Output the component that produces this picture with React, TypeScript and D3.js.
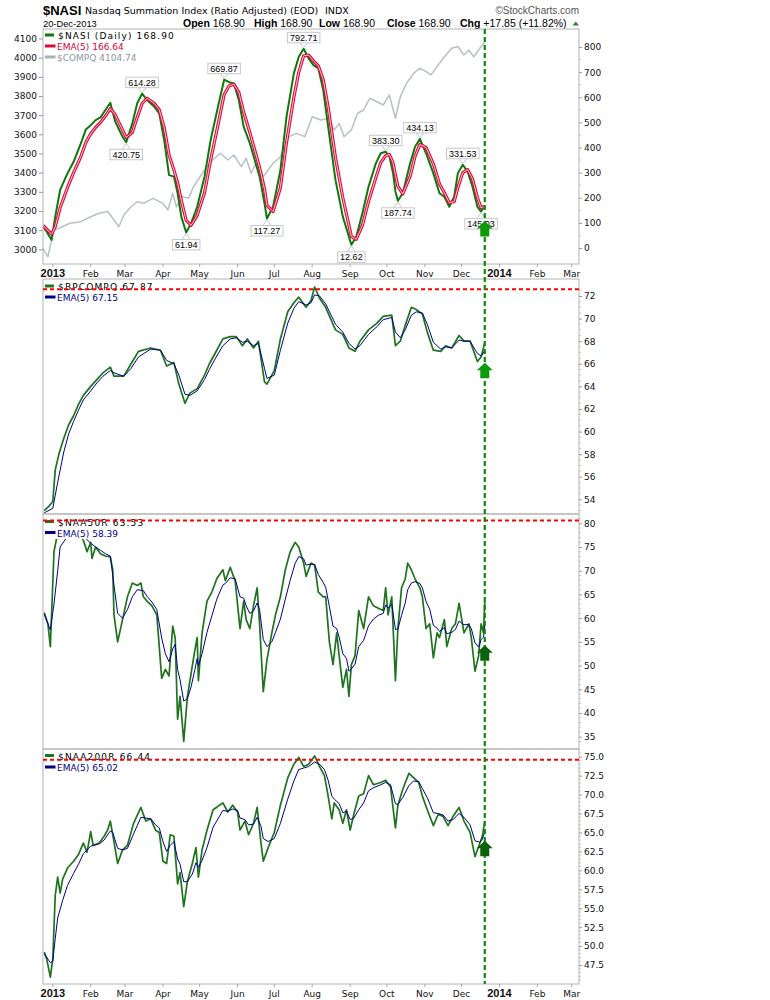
import React, { useRef, useEffect } from 'react';
import * as d3 from 'd3';

type Pt = [string, number];

const nasi: Pt[] = [
  ['2012-12-24', 85], ['2012-12-27', 65], ['2012-12-31', 32], ['2013-01-03', 125], ['2013-01-07', 231],
  ['2013-01-13', 297], ['2013-01-18', 343], ['2013-01-24', 417], ['2013-01-28', 472], ['2013-02-01', 489],
  ['2013-02-05', 509], ['2013-02-09', 520], ['2013-02-13', 549], ['2013-02-17', 578], ['2013-02-21', 503],
  ['2013-02-27', 443], ['2013-03-02', 420.75], ['2013-03-07', 496], ['2013-03-11', 576], ['2013-03-15', 614.28],
  ['2013-03-19', 589], ['2013-03-25', 562], ['2013-03-29', 536], ['2013-04-02', 430], ['2013-04-06', 290],
  ['2013-04-10', 284], ['2013-04-13', 218], ['2013-04-16', 125], ['2013-04-20', 61.94], ['2013-04-24', 98],
  ['2013-04-29', 164], ['2013-05-05', 284], ['2013-05-10', 430], ['2013-05-16', 562], ['2013-05-21', 669.87],
  ['2013-05-25', 660], ['2013-05-29', 655], ['2013-06-02', 589], ['2013-06-06', 483], ['2013-06-11', 417],
  ['2013-06-15', 350], ['2013-06-19', 284], ['2013-06-23', 178], ['2013-06-25', 117.27], ['2013-06-30', 164],
  ['2013-07-06', 310], ['2013-07-11', 523], ['2013-07-17', 695], ['2013-07-21', 761], ['2013-07-25', 792.71],
  ['2013-07-29', 755], ['2013-08-02', 728], ['2013-08-06', 715], ['2013-08-10', 629], ['2013-08-14', 483],
  ['2013-08-20', 271], ['2013-08-26', 125], ['2013-08-31', 45], ['2013-09-02', 12.62], ['2013-09-06', 45],
  ['2013-09-11', 138], ['2013-09-16', 244], ['2013-09-22', 337], ['2013-09-26', 377], ['2013-09-30', 383.3],
  ['2013-10-03', 365], ['2013-10-06', 300], ['2013-10-08', 225], ['2013-10-10', 187.74], ['2013-10-14', 218],
  ['2013-10-20', 337], ['2013-10-24', 403], ['2013-10-28', 434.13], ['2013-11-02', 377], ['2013-11-08', 297],
  ['2013-11-13', 218], ['2013-11-17', 204], ['2013-11-21', 164], ['2013-11-25', 204], ['2013-11-28', 297],
  ['2013-12-02', 331.53], ['2013-12-06', 304], ['2013-12-10', 244], ['2013-12-14', 164], ['2013-12-17', 145.03],
  ['2013-12-20', 168.9],
];

const nasiEma: Pt[] = [
  ['2012-12-24', 90], ['2012-12-27', 75], ['2012-12-31', 55], ['2013-01-03', 85], ['2013-01-07', 160],
  ['2013-01-13', 240], ['2013-01-18', 300], ['2013-01-24', 365], ['2013-01-28', 420], ['2013-02-01', 455],
  ['2013-02-05', 480], ['2013-02-09', 500], ['2013-02-13', 525], ['2013-02-17', 555], ['2013-02-21', 530],
  ['2013-02-27', 470], ['2013-03-02', 440], ['2013-03-07', 460], ['2013-03-11', 520], ['2013-03-15', 575],
  ['2013-03-19', 596], ['2013-03-25', 575], ['2013-03-29', 550], ['2013-04-02', 480], ['2013-04-06', 370],
  ['2013-04-10', 310], ['2013-04-13', 260], ['2013-04-16', 190], ['2013-04-20', 110], ['2013-04-24', 90],
  ['2013-04-29', 130], ['2013-05-05', 220], ['2013-05-10', 350], ['2013-05-16', 490], ['2013-05-21', 610],
  ['2013-05-25', 645], ['2013-05-29', 652], ['2013-06-02', 620], ['2013-06-06', 540], ['2013-06-11', 460],
  ['2013-06-15', 390], ['2013-06-19', 320], ['2013-06-23', 235], ['2013-06-25', 170], ['2013-06-30', 145],
  ['2013-07-06', 240], ['2013-07-11', 420], ['2013-07-17', 600], ['2013-07-21', 700], ['2013-07-25', 765],
  ['2013-07-29', 768], ['2013-08-02', 745], ['2013-08-06', 725], ['2013-08-10', 670], ['2013-08-14', 560],
  ['2013-08-20', 360], ['2013-08-26', 200], ['2013-08-31', 90], ['2013-09-02', 45], ['2013-09-06', 35],
  ['2013-09-11', 90], ['2013-09-16', 185], ['2013-09-22', 280], ['2013-09-26', 340], ['2013-09-30', 368],
  ['2013-10-03', 372], ['2013-10-06', 340], ['2013-10-08', 290], ['2013-10-10', 245], ['2013-10-14', 215],
  ['2013-10-20', 285], ['2013-10-24', 365], ['2013-10-28', 412], ['2013-11-02', 400], ['2013-11-08', 335],
  ['2013-11-13', 255], ['2013-11-17', 220], ['2013-11-21', 180], ['2013-11-25', 185], ['2013-11-28', 240],
  ['2013-12-02', 300], ['2013-12-06', 312], ['2013-12-10', 275], ['2013-12-14', 200], ['2013-12-17', 160],
  ['2013-12-20', 166.64],
];

const compq: Pt[] = [
  ['2012-12-24', 3005], ['2012-12-28', 2961], ['2013-01-02', 3101], ['2013-01-06', 3110], ['2013-01-15', 3136],
  ['2013-01-24', 3144], ['2013-02-01', 3170], ['2013-02-08', 3188], ['2013-02-15', 3197], ['2013-02-20', 3153],
  ['2013-02-24', 3118], ['2013-02-28', 3179], ['2013-03-06', 3222], ['2013-03-11', 3248], ['2013-03-16', 3240],
  ['2013-03-24', 3266], ['2013-04-01', 3240], ['2013-04-05', 3205], ['2013-04-09', 3292], ['2013-04-12', 3222],
  ['2013-04-17', 3275], ['2013-04-22', 3266], ['2013-04-26', 3327], ['2013-05-05', 3414], ['2013-05-10', 3457],
  ['2013-05-18', 3501], ['2013-05-24', 3466], ['2013-05-29', 3492], ['2013-06-04', 3431], ['2013-06-08', 3475],
  ['2013-06-12', 3397], ['2013-06-16', 3449], ['2013-06-22', 3379], ['2013-06-26', 3414], ['2013-06-30', 3449],
  ['2013-07-06', 3483], ['2013-07-13', 3588], ['2013-07-19', 3605], ['2013-07-26', 3588], ['2013-08-01', 3692],
  ['2013-08-08', 3675], ['2013-08-14', 3683], ['2013-08-19', 3623], ['2013-08-23', 3657], ['2013-08-27', 3588],
  ['2013-09-02', 3623], ['2013-09-07', 3710], ['2013-09-12', 3727], ['2013-09-17', 3788], ['2013-09-23', 3770],
  ['2013-09-28', 3753], ['2013-10-03', 3805], ['2013-10-08', 3684], ['2013-10-12', 3796], ['2013-10-17', 3866],
  ['2013-10-23', 3919], ['2013-10-28', 3945], ['2013-11-02', 3927], ['2013-11-06', 3910], ['2013-11-12', 3962],
  ['2013-11-17', 4005], ['2013-11-23', 4049], ['2013-11-28', 4058], ['2013-12-03', 4014], ['2013-12-07', 4040],
  ['2013-12-11', 4005], ['2013-12-16', 4049], ['2013-12-20', 4080],
];

const bpcompq: Pt[] = [
  ['2012-12-25', 53.0], ['2012-12-29', 53.4], ['2013-01-01', 53.8], ['2013-01-03', 56.6], ['2013-01-06', 58.0],
  ['2013-01-10', 59.4], ['2013-01-14', 60.6], ['2013-01-18', 61.4], ['2013-01-22', 62.4], ['2013-01-26', 63.2],
  ['2013-02-01', 64.0], ['2013-02-06', 64.6], ['2013-02-11', 65.2], ['2013-02-17', 65.7], ['2013-02-20', 64.9],
  ['2013-02-28', 64.9], ['2013-03-06', 66.0], ['2013-03-12', 67.1], ['2013-03-22', 67.4], ['2013-03-30', 67.2],
  ['2013-04-04', 65.8], ['2013-04-10', 66.1], ['2013-04-14', 64.2], ['2013-04-19', 62.5], ['2013-04-23', 63.4],
  ['2013-04-29', 63.8], ['2013-05-05', 65.0], ['2013-05-09', 66.0], ['2013-05-14', 67.0], ['2013-05-20', 68.2],
  ['2013-05-26', 68.4], ['2013-05-31', 68.4], ['2013-06-05', 67.6], ['2013-06-09', 68.2], ['2013-06-14', 67.4],
  ['2013-06-18', 68.0], ['2013-06-23', 64.4], ['2013-06-25', 64.2], ['2013-07-01', 65.4], ['2013-07-06', 68.2],
  ['2013-07-12', 70.6], ['2013-07-17', 71.4], ['2013-07-21', 71.9], ['2013-07-27', 71.0], ['2013-07-31', 71.6],
  ['2013-08-03', 72.8], ['2013-08-07', 71.8], ['2013-08-12', 71.0], ['2013-08-16', 70.0], ['2013-08-20', 69.0],
  ['2013-08-26', 68.6], ['2013-08-31', 67.4], ['2013-09-05', 67.1], ['2013-09-09', 68.0], ['2013-09-16', 69.0],
  ['2013-09-23', 69.6], ['2013-09-28', 70.2], ['2013-10-05', 70.3], ['2013-10-08', 67.6], ['2013-10-12', 68.0],
  ['2013-10-16', 69.4], ['2013-10-21', 71.0], ['2013-10-25', 70.8], ['2013-10-30', 70.4], ['2013-11-03', 68.8],
  ['2013-11-08', 67.2], ['2013-11-14', 67.1], ['2013-11-18', 67.6], ['2013-11-23', 67.4], ['2013-11-29', 68.5],
  ['2013-12-03', 68.0], ['2013-12-08', 68.0], ['2013-12-14', 66.2], ['2013-12-17', 66.6], ['2013-12-20', 67.87],
];

const bpcompqEma: Pt[] = [
  ['2012-12-25', 52.8], ['2013-01-01', 53.2], ['2013-01-05', 55.5], ['2013-01-10', 58.2], ['2013-01-14', 59.8],
  ['2013-01-18', 60.9], ['2013-01-22', 61.9], ['2013-01-26', 62.8], ['2013-02-01', 63.6], ['2013-02-06', 64.3],
  ['2013-02-11', 64.9], ['2013-02-17', 65.4], ['2013-02-20', 65.2], ['2013-02-28', 64.9], ['2013-03-06', 65.6],
  ['2013-03-12', 66.6], ['2013-03-22', 67.3], ['2013-03-30', 67.2], ['2013-04-04', 66.3], ['2013-04-10', 66.0],
  ['2013-04-14', 65.0], ['2013-04-19', 63.3], ['2013-04-23', 63.2], ['2013-04-29', 63.6], ['2013-05-05', 64.6],
  ['2013-05-09', 65.5], ['2013-05-14', 66.5], ['2013-05-20', 67.6], ['2013-05-26', 68.2], ['2013-05-31', 68.3],
  ['2013-06-05', 67.9], ['2013-06-09', 68.0], ['2013-06-14', 67.6], ['2013-06-18', 67.8], ['2013-06-23', 65.6],
  ['2013-06-25', 64.7], ['2013-07-01', 65.0], ['2013-07-06', 67.2], ['2013-07-12', 69.6], ['2013-07-17', 70.9],
  ['2013-07-21', 71.5], ['2013-07-27', 71.2], ['2013-07-31', 71.4], ['2013-08-03', 72.1], ['2013-08-07', 72.0],
  ['2013-08-12', 71.3], ['2013-08-16', 70.4], ['2013-08-20', 69.5], ['2013-08-26', 68.8], ['2013-08-31', 67.8],
  ['2013-09-05', 67.3], ['2013-09-09', 67.6], ['2013-09-16', 68.6], ['2013-09-23', 69.3], ['2013-09-28', 69.9],
  ['2013-10-05', 70.1], ['2013-10-08', 68.8], ['2013-10-12', 68.3], ['2013-10-16', 69.0], ['2013-10-21', 70.3],
  ['2013-10-25', 70.6], ['2013-10-30', 70.5], ['2013-11-03', 69.5], ['2013-11-08', 67.9], ['2013-11-14', 67.3],
  ['2013-11-18', 67.5], ['2013-11-23', 67.4], ['2013-11-29', 68.1], ['2013-12-03', 68.0], ['2013-12-08', 68.0],
  ['2013-12-14', 66.9], ['2013-12-17', 66.7], ['2013-12-20', 67.15],
];

const naa50r: Pt[] = [
  ['2012-12-25', 61.2], ['2012-12-28', 58.8], ['2012-12-30', 54.0], ['2013-01-02', 74.1], ['2013-01-05', 77.9],
  ['2013-01-07', 79.6], ['2013-01-15', 78.5], ['2013-01-20', 78.8], ['2013-01-26', 76.4], ['2013-01-29', 74.0],
  ['2013-02-01', 76.0], ['2013-02-02', 72.6], ['2013-02-05', 75.0], ['2013-02-09', 73.6], ['2013-02-13', 73.1],
  ['2013-02-17', 72.9], ['2013-02-19', 70.2], ['2013-02-20', 60.7], ['2013-02-23', 55.0], ['2013-02-27', 59.7],
  ['2013-03-03', 64.5], ['2013-03-07', 67.4], ['2013-03-11', 66.9], ['2013-03-14', 67.4], ['2013-03-16', 64.5],
  ['2013-03-19', 63.6], ['2013-03-23', 62.6], ['2013-03-27', 60.7], ['2013-03-31', 47.3], ['2013-04-03', 49.2],
  ['2013-04-06', 47.8], ['2013-04-09', 58.3], ['2013-04-11', 55.9], ['2013-04-13', 38.7], ['2013-04-15', 43.5],
  ['2013-04-18', 34.0], ['2013-04-21', 43.5], ['2013-04-24', 48.3], ['2013-04-27', 53.1], ['2013-04-29', 55.9],
  ['2013-04-30', 46.8], ['2013-05-03', 56.9], ['2013-05-07', 63.6], ['2013-05-11', 65.5], ['2013-05-15', 68.3],
  ['2013-05-20', 70.2], ['2013-05-22', 67.9], ['2013-05-26', 70.7], ['2013-05-30', 67.9], ['2013-06-03', 57.8],
  ['2013-06-06', 63.6], ['2013-06-08', 59.7], ['2013-06-11', 57.8], ['2013-06-14', 62.6], ['2013-06-17', 66.4],
  ['2013-06-19', 58.8], ['2013-06-22', 44.5], ['2013-06-25', 51.2], ['2013-06-29', 56.9], ['2013-07-02', 60.7],
  ['2013-07-06', 64.5], ['2013-07-10', 70.2], ['2013-07-14', 74.0], ['2013-07-18', 76.0], ['2013-07-21', 75.0],
  ['2013-07-25', 71.6], ['2013-07-27', 68.8], ['2013-07-31', 71.6], ['2013-08-03', 71.2], ['2013-08-06', 65.5],
  ['2013-08-10', 64.5], ['2013-08-12', 64.5], ['2013-08-15', 55.0], ['2013-08-18', 50.2], ['2013-08-21', 56.9],
  ['2013-08-23', 52.1], ['2013-08-26', 45.4], ['2013-08-29', 49.2], ['2013-08-31', 43.5], ['2013-09-02', 50.2],
  ['2013-09-05', 52.1], ['2013-09-08', 61.6], ['2013-09-12', 57.8], ['2013-09-16', 64.5], ['2013-09-20', 62.6],
  ['2013-09-24', 62.1], ['2013-09-28', 61.6], ['2013-09-30', 66.4], ['2013-10-02', 60.7], ['2013-10-05', 64.5],
  ['2013-10-08', 46.8], ['2013-10-10', 57.8], ['2013-10-13', 66.4], ['2013-10-16', 68.3], ['2013-10-18', 71.6],
  ['2013-10-21', 70.2], ['2013-10-24', 68.3], ['2013-10-28', 66.4], ['2013-10-30', 64.5], ['2013-11-02', 57.8],
  ['2013-11-05', 58.8], ['2013-11-08', 51.6], ['2013-11-11', 56.9], ['2013-11-13', 55.9], ['2013-11-17', 59.7],
  ['2013-11-19', 54.0], ['2013-11-23', 57.8], ['2013-11-26', 58.8], ['2013-11-29', 63.1], ['2013-12-03', 56.9],
  ['2013-12-07', 58.8], ['2013-12-09', 55.9], ['2013-12-12', 48.8], ['2013-12-15', 52.1], ['2013-12-17', 58.8],
  ['2013-12-19', 56.9], ['2013-12-20', 63.53],
];

const naa50rEma: Pt[] = [
  ['2012-12-25', 60.8], ['2012-12-30', 57.5], ['2013-01-02', 63.0], ['2013-01-05', 70.0], ['2013-01-07', 75.0],
  ['2013-01-15', 78.0], ['2013-01-20', 78.5], ['2013-01-26', 77.3], ['2013-02-01', 75.8], ['2013-02-05', 75.0],
  ['2013-02-09', 74.3], ['2013-02-13', 73.6], ['2013-02-17', 73.1], ['2013-02-20', 67.0], ['2013-02-23', 61.0],
  ['2013-02-27', 60.0], ['2013-03-03', 61.8], ['2013-03-07', 64.5], ['2013-03-11', 66.0], ['2013-03-16', 65.8],
  ['2013-03-19', 64.6], ['2013-03-23', 63.4], ['2013-03-27', 61.8], ['2013-03-31', 55.8], ['2013-04-03', 52.5],
  ['2013-04-06', 50.8], ['2013-04-09', 53.5], ['2013-04-11', 54.5], ['2013-04-13', 49.2], ['2013-04-15', 47.0],
  ['2013-04-18', 42.5], ['2013-04-21', 43.0], ['2013-04-24', 45.5], ['2013-04-27', 49.0], ['2013-04-29', 51.5],
  ['2013-04-30', 50.0], ['2013-05-03', 52.5], ['2013-05-07', 57.0], ['2013-05-11', 60.5], ['2013-05-15', 64.0],
  ['2013-05-20', 67.0], ['2013-05-22', 67.3], ['2013-05-26', 68.5], ['2013-05-30', 68.3], ['2013-06-03', 64.5],
  ['2013-06-06', 64.2], ['2013-06-08', 62.6], ['2013-06-11', 61.0], ['2013-06-14', 61.5], ['2013-06-17', 63.2],
  ['2013-06-19', 61.8], ['2013-06-22', 55.5], ['2013-06-25', 54.0], ['2013-06-29', 55.0], ['2013-07-02', 57.0],
  ['2013-07-06', 59.8], ['2013-07-10', 64.0], ['2013-07-14', 68.0], ['2013-07-18', 71.5], ['2013-07-21', 73.0],
  ['2013-07-25', 72.5], ['2013-07-27', 71.2], ['2013-07-31', 71.4], ['2013-08-03', 71.3], ['2013-08-06', 69.2],
  ['2013-08-10', 67.5], ['2013-08-12', 66.5], ['2013-08-15', 62.5], ['2013-08-18', 58.3], ['2013-08-21', 57.8],
  ['2013-08-23', 56.0], ['2013-08-26', 52.5], ['2013-08-29', 51.5], ['2013-08-31', 48.8], ['2013-09-02', 49.3],
  ['2013-09-05', 50.3], ['2013-09-08', 54.0], ['2013-09-12', 55.3], ['2013-09-16', 58.4], ['2013-09-20', 59.8],
  ['2013-09-24', 60.6], ['2013-09-28', 61.0], ['2013-09-30', 62.8], ['2013-10-02', 62.1], ['2013-10-05', 62.9],
  ['2013-10-08', 57.6], ['2013-10-10', 57.7], ['2013-10-13', 60.6], ['2013-10-16', 63.2], ['2013-10-18', 66.0],
  ['2013-10-21', 67.4], ['2013-10-24', 67.7], ['2013-10-28', 67.3], ['2013-10-30', 66.4], ['2013-11-02', 63.5],
  ['2013-11-05', 61.9], ['2013-11-08', 58.5], ['2013-11-11', 57.9], ['2013-11-13', 57.2], ['2013-11-17', 58.0],
  ['2013-11-19', 56.7], ['2013-11-23', 57.0], ['2013-11-26', 57.6], ['2013-11-29', 59.4], ['2013-12-03', 58.6],
  ['2013-12-07', 58.7], ['2013-12-09', 57.8], ['2013-12-12', 54.8], ['2013-12-15', 53.9], ['2013-12-17', 55.5],
  ['2013-12-19', 56.0], ['2013-12-20', 58.39],
];

const naa200r: Pt[] = [
  ['2012-12-25', 49.2], ['2012-12-27', 48.3], ['2012-12-30', 45.9], ['2013-01-01', 48.3], ['2013-01-03', 56.7],
  ['2013-01-05', 59.1], ['2013-01-07', 57.0], ['2013-01-09', 58.8], ['2013-01-13', 60.3], ['2013-01-18', 61.2],
  ['2013-01-22', 62.1], ['2013-01-26', 63.6], ['2013-01-29', 62.4], ['2013-02-01', 65.1], ['2013-02-03', 63.3],
  ['2013-02-08', 63.6], ['2013-02-12', 64.5], ['2013-02-15', 65.4], ['2013-02-17', 66.5], ['2013-02-19', 64.7],
  ['2013-02-23', 60.9], ['2013-02-27', 62.7], ['2013-03-03', 63.3], ['2013-03-08', 66.2], ['2013-03-14', 68.3],
  ['2013-03-18', 66.5], ['2013-03-22', 66.8], ['2013-03-26', 65.3], ['2013-03-29', 65.0], ['2013-04-01', 61.2],
  ['2013-04-04', 60.9], ['2013-04-07', 64.7], ['2013-04-10', 64.5], ['2013-04-13', 58.2], ['2013-04-15', 59.7],
  ['2013-04-18', 55.2], ['2013-04-21', 58.5], ['2013-04-25', 60.9], ['2013-04-28', 63.0], ['2013-04-30', 59.1],
  ['2013-05-03', 62.7], ['2013-05-07', 65.3], ['2013-05-12', 68.0], ['2013-05-20', 68.9], ['2013-05-24', 67.7],
  ['2013-05-28', 68.6], ['2013-06-01', 67.7], ['2013-06-03', 65.3], ['2013-06-07', 66.5], ['2013-06-10', 64.7],
  ['2013-06-14', 66.2], ['2013-06-17', 68.3], ['2013-06-20', 63.8], ['2013-06-22', 61.2], ['2013-06-26', 63.0],
  ['2013-07-01', 65.0], ['2013-07-06', 68.6], ['2013-07-12', 72.2], ['2013-07-17', 74.0], ['2013-07-21', 74.9],
  ['2013-07-25', 73.7], ['2013-07-29', 74.0], ['2013-08-03', 75.1], ['2013-08-07', 73.7], ['2013-08-11', 72.5],
  ['2013-08-14', 69.8], ['2013-08-17', 66.8], ['2013-08-19', 68.9], ['2013-08-23', 68.0], ['2013-08-26', 66.2],
  ['2013-08-29', 68.0], ['2013-09-01', 65.3], ['2013-09-04', 67.4], ['2013-09-08', 69.8], ['2013-09-12', 70.1],
  ['2013-09-16', 72.5], ['2013-09-20', 71.3], ['2013-09-26', 71.6], ['2013-09-30', 71.9], ['2013-10-04', 71.0],
  ['2013-10-08', 65.6], ['2013-10-10', 68.6], ['2013-10-14', 70.7], ['2013-10-19', 72.8], ['2013-10-23', 72.2],
  ['2013-10-27', 71.6], ['2013-10-30', 69.8], ['2013-11-03', 68.0], ['2013-11-08', 65.9], ['2013-11-12', 67.4],
  ['2013-11-16', 67.1], ['2013-11-20', 65.9], ['2013-11-24', 67.1], ['2013-11-29', 68.3], ['2013-12-03', 66.5],
  ['2013-12-08', 65.0], ['2013-12-12', 61.8], ['2013-12-16', 63.6], ['2013-12-18', 64.5], ['2013-12-20', 66.44],
];

const naa200rEma: Pt[] = [
  ['2012-12-25', 49.0], ['2012-12-30', 47.8], ['2013-01-01', 48.0], ['2013-01-03', 51.0], ['2013-01-05', 53.7],
  ['2013-01-09', 56.0], ['2013-01-13', 58.0], ['2013-01-18', 59.6], ['2013-01-22', 60.8], ['2013-01-26', 62.2],
  ['2013-02-01', 63.2], ['2013-02-08', 63.5], ['2013-02-12', 64.0], ['2013-02-17', 65.2], ['2013-02-19', 65.0],
  ['2013-02-23', 62.9], ['2013-02-27', 62.7], ['2013-03-03', 62.9], ['2013-03-08', 64.8], ['2013-03-14', 67.0],
  ['2013-03-18', 66.9], ['2013-03-22', 66.8], ['2013-03-26', 66.0], ['2013-03-29', 65.6], ['2013-04-01', 63.8],
  ['2013-04-04', 62.5], ['2013-04-07', 63.3], ['2013-04-10', 63.8], ['2013-04-13', 61.5], ['2013-04-15', 60.8],
  ['2013-04-18', 58.5], ['2013-04-21', 58.5], ['2013-04-25', 59.5], ['2013-04-28', 61.0], ['2013-04-30', 60.4],
  ['2013-05-03', 61.3], ['2013-05-07', 63.0], ['2013-05-12', 65.7], ['2013-05-20', 67.9], ['2013-05-24', 67.8],
  ['2013-05-28', 68.1], ['2013-06-01', 67.9], ['2013-06-03', 66.9], ['2013-06-07', 66.7], ['2013-06-10', 66.0],
  ['2013-06-14', 66.1], ['2013-06-17', 67.0], ['2013-06-20', 65.9], ['2013-06-22', 64.2], ['2013-06-26', 63.8],
  ['2013-07-01', 64.2], ['2013-07-06', 66.2], ['2013-07-12', 69.4], ['2013-07-17', 71.8], ['2013-07-21', 73.3],
  ['2013-07-25', 73.5], ['2013-07-29', 73.7], ['2013-08-03', 74.3], ['2013-08-07', 74.0], ['2013-08-11', 73.3],
  ['2013-08-14', 71.9], ['2013-08-17', 69.8], ['2013-08-19', 69.4], ['2013-08-23', 68.8], ['2013-08-26', 67.6],
  ['2013-08-29', 67.8], ['2013-09-01', 66.7], ['2013-09-04', 66.9], ['2013-09-08', 68.0], ['2013-09-12', 68.9],
  ['2013-09-16', 70.5], ['2013-09-20', 70.9], ['2013-09-26', 71.3], ['2013-09-30', 71.6], ['2013-10-04', 71.3],
  ['2013-10-08', 68.8], ['2013-10-10', 68.7], ['2013-10-14', 69.6], ['2013-10-19', 71.2], ['2013-10-23', 71.8],
  ['2013-10-27', 71.7], ['2013-10-30', 70.8], ['2013-11-03', 69.6], ['2013-11-08', 67.6], ['2013-11-12', 67.5],
  ['2013-11-16', 67.3], ['2013-11-20', 66.5], ['2013-11-24', 66.7], ['2013-11-29', 67.5], ['2013-12-03', 67.0],
  ['2013-12-08', 66.0], ['2013-12-12', 63.9], ['2013-12-16', 63.7], ['2013-12-18', 64.1], ['2013-12-20', 65.02],
];

// peak / trough annotations on $NASI
const nasiLabels: [string, 'above' | 'below'][] = [
  ['2013-03-02', 'below'], ['2013-03-15', 'above'], ['2013-04-20', 'below'], ['2013-05-21', 'above'],
  ['2013-06-25', 'below'], ['2013-07-25', 'above'], ['2013-09-02', 'below'], ['2013-09-30', 'above'],
  ['2013-10-10', 'below'], ['2013-10-28', 'above'], ['2013-12-02', 'above'], ['2013-12-17', 'below'],
];

const lastDate = '2013-12-20';
const compqLast = 4104.74;
const ohlc: [string, string][] = [['Open', '168.90'], ['High', '168.90'], ['Low', '168.90'], ['Close', '168.90'], ['Chg', '+17.85 (+11.82%)']];
const resistance = { bp: 72.6, n50: 80.6, n200: 74.6 };
const arrowTips = { nasi: 107, bp: 66.1, n50: 54.3, n200: 63.9 };

const DV = '"DejaVu Sans", Verdana, sans-serif';
const LS = '"Liberation Sans", Arial, sans-serif';
const L = 43;
const R = 579;

export default function App() {
  const svgRef = useRef<SVGSVGElement>(null);

  useEffect(() => {
    if (!svgRef.current) return;
    const svg = d3.select(svgRef.current);
    svg.selectAll('*').remove();
    const parse = d3.timeParse('%Y-%m-%d');
    const pd = (s: string) => parse(s) as Date;

    const x = d3.scaleTime().domain([new Date(2012, 11, 24), new Date(2014, 2, 7)]).range([L, R]);

    const yNasi = d3.scaleLinear().domain([0, 800]).range([248, 47]);
    const yCompq = d3.scaleLinear().domain([3000, 4100]).range([249.3, 38.5]);
    const yBp = d3.scaleLinear().domain([54, 72]).range([499.3, 296]);
    const y50 = d3.scaleLinear().domain([35, 80]).range([736.7, 523.3]);
    const y200 = d3.scaleLinear().domain([47.5, 75]).range([965, 756.7]);

    const boxes = [
      { top: 29, bottom: 264 },
      { top: 279, bottom: 514 },
      { top: 514, bottom: 749 },
      { top: 749, bottom: 984 },
    ];

    svg.append('rect').attr('width', 770).attr('height', 1000).attr('fill', '#fff');
    const defs = svg.append('defs');
    boxes.forEach((b, i) => {
      defs.append('clipPath').attr('id', `clip${i}`)
        .append('rect').attr('x', L).attr('y', b.top).attr('width', R - L).attr('height', b.bottom - b.top);
    });

    const drawLine = (i: number, data: Pt[], y: any, color: string, w: number) =>
      svg.append('path').datum(data)
        .attr('clip-path', `url(#clip${i})`)
        .attr('fill', 'none').attr('stroke', color).attr('stroke-width', w)
        .attr('stroke-linejoin', 'round')
        .attr('d', d3.line<Pt>().x(d => x(pd(d[0]))).y(d => y(d[1])));

    // ---- header ----
    svg.append('text').attr('x', 43).attr('y', 15).attr('font-family', LS).attr('font-weight', 'bold')
      .attr('font-size', 13).text('$NASI');
    svg.append('text').attr('x', 85).attr('y', 14).attr('font-family', DV).attr('font-size', 9.5)
      .text('Nasdaq Summation Index (Ratio Adjusted) (EOD)');
    svg.append('text').attr('x', 325).attr('y', 14).attr('font-family', DV).attr('font-size', 9.5).text('INDX');
    svg.append('text').attr('x', 43).attr('y', 26.5).attr('font-family', LS).attr('font-size', 9.3).text('20-Dec-2013');
    const ohlcX = [183, 254, 319, 387, 460];
    ohlc.forEach(([k, v], i) => {
      const t = svg.append('text').attr('x', ohlcX[i]).attr('y', 26.5).attr('font-family', LS).attr('font-size', 10.5);
      t.append('tspan').attr('font-weight', 'bold').text(k);
      t.append('tspan').text(' ' + v);
    });
    svg.append('path').attr('d', 'M572.5,25.5 L575.8,21.5 L579,25.5 Z').attr('fill', '#2a8a2a');
    svg.append('text').attr('x', 579).attr('y', 13.5).attr('text-anchor', 'end').attr('font-family', LS)
      .attr('font-size', 10).attr('fill', '#555').text('\u00A9StockCharts.com');

    // ---- series ----
    drawLine(0, compq, yCompq, '#b9c0c7', 1.5);
    drawLine(0, nasi, yNasi, '#0b7a0b', 2);
    drawLine(0, nasiEma, yNasi, '#dc0a3c', 3.2);
    drawLine(0, nasiEma, yNasi, '#ffc9d3', 1);

    drawLine(1, bpcompq, yBp, '#1f731f', 1.7);
    drawLine(1, bpcompqEma, yBp, '#00008b', 1);
    drawLine(2, naa50r, y50, '#1f731f', 1.7);
    drawLine(2, naa50rEma, y50, '#00008b', 1);
    drawLine(3, naa200r, y200, '#1f731f', 1.7);
    drawLine(3, naa200rEma, y200, '#00008b', 1);

    // ---- frames ----
    boxes.forEach(b => {
      svg.append('rect').attr('x', L).attr('y', b.top).attr('width', R - L).attr('height', b.bottom - b.top)
        .attr('fill', 'none').attr('stroke', '#b4b4b4').attr('stroke-width', 1);
    });

    // ---- right axes ----
    const rightAxis = (y: any, values: number[], fmt: (v: number) => string, minor: number[]) => {
      const g = svg.append('g').attr('transform', `translate(${R},0)`)
        .call(d3.axisRight(y).tickValues(values).tickSize(3).tickPadding(2).tickFormat(fmt as any));
      g.select('.domain').remove();
      g.selectAll('line').attr('stroke', '#999');
      g.selectAll('text').attr('font-family', DV).attr('font-size', 9).attr('fill', '#111');
      minor.forEach(v => {
        svg.append('line').attr('x1', R).attr('x2', R + 2).attr('y1', y(v)).attr('y2', y(v))
          .attr('stroke', '#c4c4c4');
      });
    };
    rightAxis(yNasi, d3.range(0, 801, 100), d3.format('d'), d3.range(50, 800, 100));
    rightAxis(yBp, d3.range(54, 73, 2), d3.format('d'), d3.range(53, 73, 0.5).filter(v => v % 2 !== 0));
    rightAxis(y50, d3.range(35, 81, 5), d3.format('d'), d3.range(34, 82, 1).filter(v => v % 5 !== 0));
    rightAxis(y200, d3.range(47.5, 75.1, 2.5), d3.format('.1f'), d3.range(45.5, 76, 0.5).filter(v => v % 2.5 !== 0));

    // left axis ($COMPQ)
    const gl = svg.append('g').attr('transform', `translate(${L},0)`)
      .call(d3.axisLeft(yCompq).tickValues(d3.range(3000, 4101, 100)).tickSize(4).tickPadding(2).tickFormat(d3.format('d') as any));
    gl.select('.domain').remove();
    gl.selectAll('line').attr('stroke', '#999');
    gl.selectAll('text').attr('font-family', DV).attr('font-size', 9).attr('fill', '#111');

    // ---- month axes ----
    const months = d3.timeMonth.range(new Date(2013, 0, 1), new Date(2014, 2, 2));
    [{ line: 264, base: 276.5 }, { line: 984, base: 996.5 }].forEach(a => {
      months.forEach(m => {
        const mx = x(m);
        svg.append('line').attr('x1', mx).attr('x2', mx).attr('y1', a.line).attr('y2', a.line + 3).attr('stroke', '#aaa');
        const isYear = m.getMonth() === 0;
        svg.append('text').attr('x', mx).attr('y', a.base).attr('text-anchor', 'middle')
          .attr('font-family', isYear ? LS : DV).attr('font-size', isYear ? 11 : 9)
          .attr('font-weight', isYear ? 'bold' : 'normal').attr('fill', '#111')
          .text(isYear ? d3.timeFormat('%Y')(m) : d3.timeFormat('%b')(m));
      });
    });

    // ---- peak / trough labels ----
    nasiLabels.forEach(([d, pos]) => {
      const pt = nasi.find(p => p[0] === d) as Pt;
      const px = x(pd(d));
      const py = yNasi(pt[1]);
      const g = svg.append('g');
      const t = g.append('text').attr('font-family', LS).attr('font-size', 9).attr('text-anchor', 'middle')
        .text(pt[1].toFixed(2));
      const w = (t.node() as SVGTextElement).getComputedTextLength() + 5;
      const h = 10.5;
      const by = pos === 'above' ? py - 6 - h : py + 7;
      const edge = pos === 'above' ? by + h : by;
      g.insert('path', 'text')
        .attr('d', `M${px - 4},${edge} L${px},${pos === 'above' ? py - 1 : py + 1} L${px + 4},${edge}`)
        .attr('fill', '#fff').attr('stroke', '#c8c8c8');
      g.insert('rect', 'text').attr('x', px - w / 2).attr('y', by).attr('width', w).attr('height', h)
        .attr('fill', '#fff').attr('stroke', '#c8c8c8');
      t.attr('x', px).attr('y', by + h - 2);
    });

    // ---- legends ----
    const legend = (rows: { color: string; text: string; tcolor: string; main: boolean }[], base0: number, step: number) => {
      rows.forEach((r, i) => {
        const base = base0 + i * step;
        const g = svg.append('g');
        const bg = g.append('rect').attr('fill', '#fff');
        g.append('rect').attr('x', 45).attr('y', base - 5.5).attr('width', r.main ? 9 : 10.5).attr('height', 3).attr('fill', r.color);
        const t = g.append('text').attr('x', r.main ? 58 : 57).attr('y', base).attr('font-family', DV)
          .attr('font-size', 9).attr('fill', r.tcolor).attr('letter-spacing', r.main ? 1.15 : 0).text(r.text);
        const w = (t.node() as SVGTextElement).getComputedTextLength();
        bg.attr('x', 44).attr('y', base - 8.5).attr('width', w + 16).attr('height', 11);
      });
    };
    const last = (a: Pt[]) => a[a.length - 1][1].toFixed(2);
    legend([
      { color: '#0b7a0b', text: `$NASI (Daily) ${last(nasi)}`, tcolor: '#000', main: true },
      { color: '#dc0a3c', text: `EMA(5) ${last(nasiEma)}`, tcolor: '#d0063a', main: false },
      { color: '#a9b0b7', text: `$COMPQ  ${compqLast.toFixed(2)}`, tcolor: '#8d969e', main: false },
    ], 39, 11);
    legend([
      { color: '#1f731f', text: `$BPCOMPQ  ${last(bpcompq)}`, tcolor: '#000', main: true },
      { color: '#00008b', text: `EMA(5) ${last(bpcompqEma)}`, tcolor: '#00008b', main: false },
    ], 290, 11);
    legend([
      { color: '#1f731f', text: `$NAA50R  ${last(naa50r)}`, tcolor: '#000', main: true },
      { color: '#00008b', text: `EMA(5) ${last(naa50rEma)}`, tcolor: '#00008b', main: false },
    ], 525.5, 11);
    legend([
      { color: '#1f731f', text: `$NAA200R  ${last(naa200r)}`, tcolor: '#000', main: true },
      { color: '#00008b', text: `EMA(5) ${last(naa200rEma)}`, tcolor: '#00008b', main: false },
    ], 759.5, 11.5);

    // ---- horizontal resistance lines ----
    [[yBp, resistance.bp], [y50, resistance.n50], [y200, resistance.n200]].forEach(([y, v]: any) => {
      svg.append('line').attr('x1', L).attr('x2', R).attr('y1', y(v)).attr('y2', y(v))
        .attr('stroke', '#ff0000').attr('stroke-width', 2).attr('stroke-dasharray', '4,3');
    });

    // ---- vertical marker at last bar ----
    const lx = x(pd(lastDate));
    svg.append('line').attr('x1', lx).attr('x2', lx).attr('y1', 29).attr('y2', 984)
      .attr('stroke', '#0a8a0a').attr('stroke-width', 2.2).attr('stroke-dasharray', '5,3');

    // ---- arrows ----
    const arrow = (tipY: number, color: string) => {
      svg.append('path')
        .attr('d', `M${lx},${tipY} L${lx + 8},${tipY + 7.5} L${lx + 4.5},${tipY + 7.5} L${lx + 4.5},${tipY + 15.5} ` +
          `L${lx - 4.5},${tipY + 15.5} L${lx - 4.5},${tipY + 7.5} L${lx - 8},${tipY + 7.5} Z`)
        .attr('fill', color);
    };
    arrow(yNasi(arrowTips.nasi), '#0a9a0a');
    arrow(yBp(arrowTips.bp), '#0a9a0a');
    arrow(y50(arrowTips.n50), '#0b620b');
    arrow(y200(arrowTips.n200), '#0b620b');
  }, []);

  return (
    <svg ref={svgRef} width={770} height={1000}
      style={{ position: 'absolute', left: 0, top: 0, display: 'block', background: '#fff' }} />
  );
}
